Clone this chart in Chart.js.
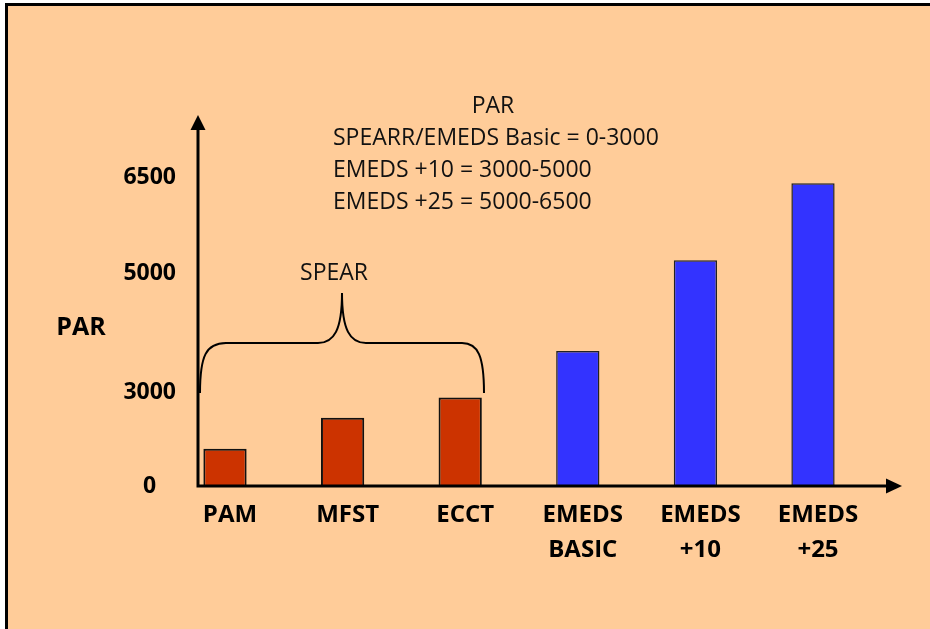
<!DOCTYPE html>
<html>
<head>
<meta charset="utf-8">
<script src="https://cdn.jsdelivr.net/npm/chart.js@4.4.1/dist/chart.umd.min.js"></script>
<style>
  html, body { margin: 0; padding: 0; background: #fff; }
  #wrap { width: 930px; height: 629px; }
</style>
</head>
<body>
<div id="wrap"><canvas id="parChart"></canvas></div>
<script>
// data
const categories = [['PAM'], ['MFST'], ['ECCT'], ['EMEDS', 'BASIC'], ['EMEDS', '+10'], ['EMEDS', '+25']];
const parValues = [1200, 2200, 2850, 3700, 5200, 6400];
const programs = ['SPEAR', 'SPEAR', 'SPEAR', 'EMEDS', 'EMEDS', 'EMEDS'];
const yTicks = [0, 3000, 5000, 6500];
const noteTitle = 'PAR';
const noteLines = ['SPEARR/EMEDS Basic = 0-3000', 'EMEDS +10 = 3000-5000', 'EMEDS +25 = 5000-6500'];
const braceLabel = 'SPEAR';

const programColors = { SPEAR: '#CC3300', EMEDS: '#3333FF' };

// the drawn y axis is not evenly spaced: value -> fraction of the axis height
const axisBreaks = [[0, 0], [3000, 0.251], [5000, 0.574], [6500, 0.833], [7500, 1]];

const LinearScale = Chart.registry.getScale('linear');
class BrokenScale extends LinearScale {
  getPixelForValue(v) {
    if (v === null || v === undefined) return NaN;
    let i = 1;
    while (i < axisBreaks.length - 1 && v > axisBreaks[i][0]) i++;
    const [v0, d0] = axisBreaks[i - 1];
    const [v1, d1] = axisBreaks[i];
    return this.getPixelForDecimal(d0 + (v - v0) / (v1 - v0) * (d1 - d0));
  }
  getValueForPixel(p) {
    const d = this.getDecimalForPixel(p);
    let i = 1;
    while (i < axisBreaks.length - 1 && d > axisBreaks[i][1]) i++;
    const [v0, d0] = axisBreaks[i - 1];
    const [v1, d1] = axisBreaks[i];
    return v0 + (d - d0) / (d1 - d0) * (v1 - v0);
  }
}
BrokenScale.id = 'broken';
Chart.register(BrokenScale);

Chart.defaults.font.family = '"Open Sans", sans-serif';
Chart.defaults.color = '#000';

const decor = {
  id: 'decor',
  beforeDraw(chart) {
    const ctx = chart.ctx;
    ctx.save();
    ctx.fillStyle = '#fff';
    ctx.fillRect(0, 0, chart.width, chart.height);
    ctx.fillStyle = '#000';
    ctx.fillRect(5, 3, chart.width - 5, chart.height - 3);
    ctx.fillStyle = '#FFCC99';
    ctx.fillRect(8, 6, chart.width - 8, chart.height - 6);
    ctx.restore();
  },
  afterDatasetsDraw(chart) {
    // soft shadow for the category labels (x axis is drawn after this)
    const ctx = chart.ctx;
    ctx.shadowColor = 'rgba(110,130,175,0.65)';
    ctx.shadowOffsetX = 2;
    ctx.shadowOffsetY = 2;
    ctx.shadowBlur = 1;
  },
  afterDraw(chart) {
    const ctx = chart.ctx;
    const a = chart.chartArea;
    ctx.shadowColor = 'rgba(0,0,0,0)';
    ctx.shadowOffsetX = 0;
    ctx.shadowOffsetY = 0;
    ctx.shadowBlur = 0;
    ctx.save();
    const ox = a.left - 27, oy = a.bottom;
    ctx.strokeStyle = '#000';
    ctx.fillStyle = '#000';
    ctx.lineWidth = 3;
    ctx.beginPath();
    ctx.moveTo(ox, oy + 1.5);
    ctx.lineTo(ox, a.top + 14);
    ctx.moveTo(ox - 1.5, oy);
    ctx.lineTo(888, oy);
    ctx.stroke();
    ctx.beginPath();
    ctx.moveTo(ox, a.top);
    ctx.lineTo(ox - 7.5, a.top + 15);
    ctx.lineTo(ox + 7.5, a.top + 15);
    ctx.closePath();
    ctx.fill();
    ctx.beginPath();
    ctx.moveTo(902, oy);
    ctx.lineTo(886, oy - 7.5);
    ctx.lineTo(886, oy + 7.5);
    ctx.closePath();
    ctx.fill();

    // brace over the SPEAR bars
    ctx.lineWidth = 2;
    ctx.beginPath();
    ctx.moveTo(200, 393);
    ctx.bezierCurveTo(200, 356, 206, 343, 226, 343);
    ctx.lineTo(318, 343);
    ctx.bezierCurveTo(334, 343, 342, 330, 342, 293);
    ctx.bezierCurveTo(342, 330, 350, 343, 366, 343);
    ctx.lineTo(462, 343);
    ctx.bezierCurveTo(478, 343, 484, 356, 484, 393);
    ctx.stroke();

    ctx.fillStyle = '#111';
    ctx.textBaseline = 'middle';
    ctx.font = '23px "Open Sans"';
    ctx.textAlign = 'center';
    ctx.fillText(braceLabel, 334, 273);
    ctx.fillText(noteTitle, 493, 106);
    ctx.textAlign = 'left';
    noteLines.forEach((t, i) => ctx.fillText(t, 333, 138 + i * 32));

    ctx.fillStyle = '#000';
    ctx.font = 'bold 25px "Open Sans"';
    ctx.textAlign = 'center';
    ctx.fillText('PAR', 81, 328);
    ctx.restore();
  }
};

new Chart(document.getElementById('parChart'), {
  type: 'bar',
  data: {
    labels: categories,
    datasets: [{
      label: 'PAR',
      data: parValues,
      backgroundColor: c => programColors[programs[c.dataIndex]],
      borderColor: c => programs[c.dataIndex] === 'SPEAR' ? '#111' : '#222',
      borderWidth: c => programs[c.dataIndex] === 'SPEAR' ? 2 : 1.5,
      barPercentage: 0.46,
      categoryPercentage: 0.8,
      clip: false
    }]
  },
  options: {
    responsive: true,
    maintainAspectRatio: false,
    animation: false,
    layout: { padding: { left: 0, top: 115, right: 117, bottom: 63 } },
    plugins: { legend: { display: false }, tooltip: { enabled: false } },
    scales: {
      x: {
        offset: false,
        z: 1,
        grid: { display: false },
        border: { display: false },
        ticks: {
          padding: 4,
          labelOffset: 5,
          maxRotation: 0,
          font: { size: 24, weight: 'bold', lineHeight: 1.46 },
          color: '#000'
        },
        afterFit: s => { s.height = 80; }
      },
      y: {
        type: 'broken',
        min: 0,
        max: 7500,
        grid: { display: false },
        border: { display: false },
        ticks: {
          padding: 41,
          crossAlign: 'center',
          font: { size: 23, weight: 'bold' },
          color: '#000',
          callback: v => String(v)
        },
        afterBuildTicks: s => { s.ticks = yTicks.map(v => ({ value: v })); },
        afterFit: s => { s.width = 225; }
      }
    }
  },
  plugins: [decor]
});
</script>
</body>
</html>
